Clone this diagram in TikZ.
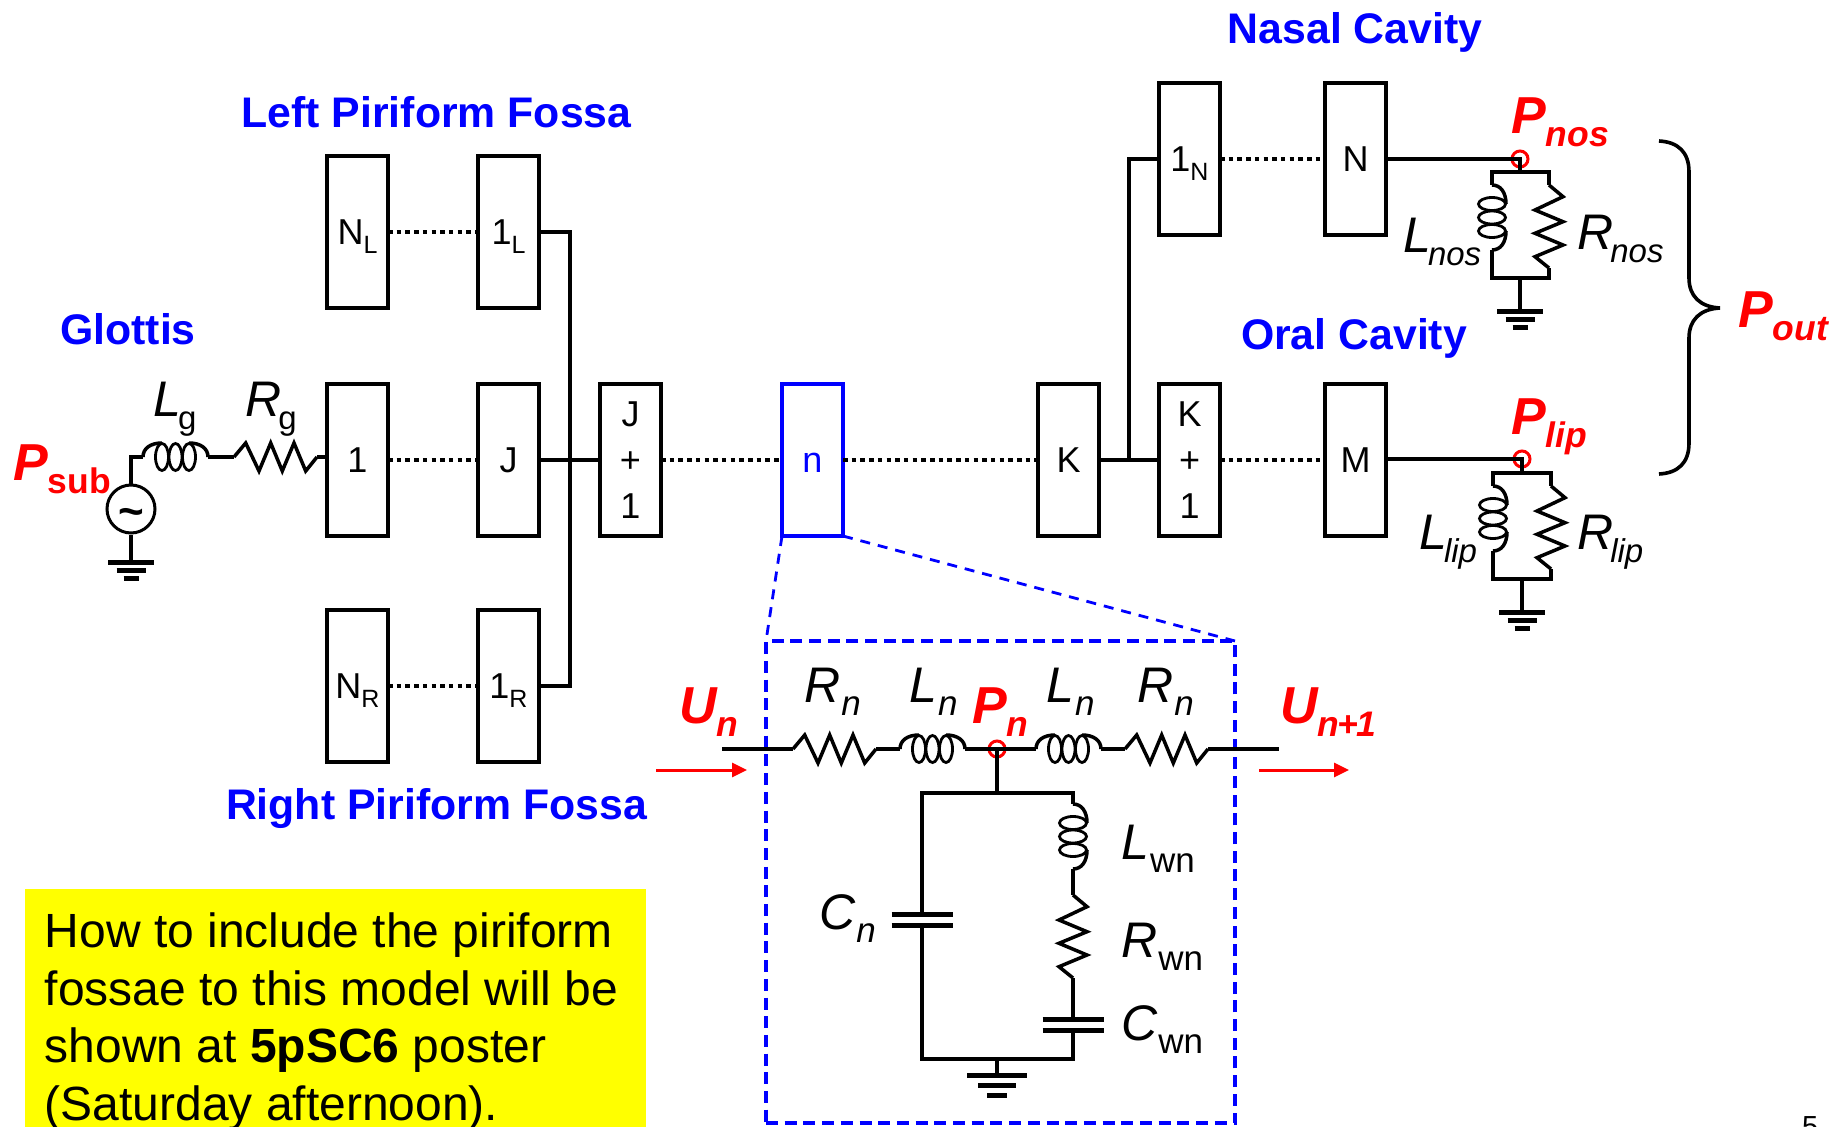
\documentclass[tikz,border=0pt]{standalone}
\usepackage{fontspec}
\setmainfont{Liberation Sans}
\usetikzlibrary{arrows.meta, positioning}

\definecolor{pureblue}{RGB}{0,0,255}
\definecolor{purered}{RGB}{255,0,0}
\definecolor{pureyellow}{RGB}{255,255,0}

\newcommand{\elab}[2]{{\fontsize{50}{50}\selectfont\itshape #1}\kern-3pt\raisebox{-13pt}{\fontsize{35}{35}\selectfont #2}}
\newcommand{\isub}[1]{{\fontsize{33}{33}\selectfont\itshape #1}}
\newcommand{\plab}[2]{{\fontsize{52}{52}\selectfont\bfseries\itshape #1}\raisebox{-13pt}{\fontsize{35.5}{35.5}\selectfont\bfseries\itshape #2}}
\newcommand{\bsub}[2]{#1\smash{\raisebox{-9pt}{\fontsize{25}{25}\selectfont #2}}}

\tikzset{
  resistor/.pic={
    \coordinate (-in) at (0,0);
    \coordinate (-out) at (83,0);
    \draw[wire] (0,0) -- (11.7,-14) -- (25,14) -- (36.7,-14) -- (48.3,14) -- (60,-14) -- (71.7,14) -- (83,0);
  },
  inductor/.pic={
    \coordinate (-in) at (0,0);
    \coordinate (-out) at (65,0);
    \draw[wire] (0,0) .. controls (0,-9) and (8,-14) .. (19,-14);
    \draw[wire] (46,-14) .. controls (57,-14) and (65,-9) .. (65,0);
    \foreach \lx in {19,32.5,46}
      \draw[wire, line width=2.8pt] (\lx,0) ellipse [x radius=6.5pt, y radius=13.5pt];
  },
  gnd/.pic={
    \coordinate (-top) at (0,0);
    \draw[line width=5pt] (-23,0) -- (23,0);
    \draw[line width=5pt] (-14.5,8) -- (14.5,8);
    \draw[line width=5pt] (-7.5,16) -- (7.5,16);
  }
}

\begin{document}
\begin{tikzpicture}[
  x=1pt, y=-1pt,
  box/.style={rectangle, draw, line width=3.8pt, minimum height=152pt, minimum width=61pt, inner sep=0pt, outer sep=0pt, align=center, font=\fontsize{36}{46}\selectfont},
  wire/.style={line width=3.5pt, line join=miter},
  bus/.style={line width=4pt},
  dots/.style={line width=3.6pt, dash pattern=on 4.5pt off 4.2pt},
  title/.style={text=pureblue, inner sep=0pt, font=\fontsize{42.8}{42.8}\selectfont\bfseries},
  txt/.style={anchor=base west, inner sep=0pt},
  redtxt/.style={txt, text=purered},
  probe/.style={circle, draw=purered, line width=3pt, minimum size=16pt, inner sep=0pt},
  plate/.style={line width=5pt},
  flow/.style={draw=purered, line width=3pt, -{Triangle[length=15pt, width=14pt]}},
  zoomline/.style={draw=pureblue, line width=2.8pt, dash pattern=on 10pt off 8pt},
  zoombox/.style={draw=pureblue, line width=4pt, dash pattern=on 12pt off 6.7pt}
]
  \useasboundingbox (0,0) rectangle (1840,1127);
  % main row
  \node[box] (one) at (357.5,460) {1};
  \node[box, right=90pt of one] (jj) {J};
  \node[box, right=61pt of jj] (jplus) {J\\+\\1};
  \node[box, draw=pureblue, text=pureblue, right=121pt of jplus] (nn) {\vphantom{1}n};
  \node[box, right=195pt of nn] (kk) {K};
  \node[box, right=60pt of kk] (kplus) {K\\+\\1};
  \node[box, right=105pt of kplus] (mm) {M};
  % piriform fossae
  \node[box, above=76pt of one] (nl) {\bsub{N}{L}};
  \node[box, above=76pt of jj] (onel) {\bsub{1}{L}};
  \node[box, below=74pt of one] (nr) {\bsub{N}{R}};
  \node[box, below=74pt of jj] (oner) {\bsub{1}{R}};
  % nasal branch
  \node[box, above=149pt of kplus] (onen) {\bsub{1}{N}};
  \node[box, above=149pt of mm] (en) {N};

  \draw[dots] (one) -- (jj);
  \draw[dots] (nl) -- (onel);
  \draw[dots] (nr) -- (oner);
  \draw[dots] (jplus) -- (nn);
  \draw[dots] (nn) -- (kk);
  \draw[dots] (kplus) -- (mm);
  \draw[dots] (onen) -- (onen -| en.west);
  \draw[wire] (jj) -- (jplus);
  \draw[wire] (kk) -- (kplus);
  \coordinate (busj) at (570,460);
  \coordinate (busk) at (1129,460);
  \draw[bus] (onel.east) -| (busj) |- (oner.east);
  \draw[bus] (busk) |- (onen.west);

  % glottis
  \node[circle, draw, line width=3pt, minimum size=48pt, inner sep=0pt, font=\fontsize{44}{44}\selectfont\bfseries] (src) at (131,509) {\smash{\raisebox{-17pt}{\textasciitilde}}};
  \pic (lg) at (143,457) {inductor};
  \pic (rg) at (234,457) {resistor};
  \pic (gnda) at (131,562) {gnd};
  \draw[wire] (src.north) |- (lg-in);
  \draw[wire] (lg-out) -- (rg-in);
  \draw[wire] (rg-out) -- (rg-out -| one.west);
  \draw[wire] (src.south) -- (gnda-top);
  \node[txt] (lgtxt) at (153,416) {\elab{L}{\fontsize{33}{33}\selectfont g}};
  \node[txt] (rgtxt) at (245,416) {\elab{R}{\fontsize{33}{33}\selectfont g}};
  \node[redtxt] (psub) at (13,480) {\plab{P}{\textup{sub}}};

  % nostrils
  \node[probe] (pnos) at (1520,159) {};
  \coordinate (railna) at (1492,172);
  \coordinate (railnb) at (1549,172);
  \coordinate (railnc) at (1492,278);
  \coordinate (railnd) at (1549,278);
  \pic[rotate=-90] (lnos) at (1492,185) {inductor};
  \pic[rotate=-90] (rnos) at (1549,185) {resistor};
  \pic (gndb) at (1520,311) {gnd};
  \draw[wire] (en.east |- pnos) -- (pnos.center) -- (pnos |- railna);
  \draw[wire] (lnos-in) -- (railna) -- (railnb) -- (rnos-in);
  \draw[wire] (lnos-out) -- (railnc) -- (railnd) -- (rnos-out);
  \draw[wire] (pnos |- railnc) -- (gndb-top);
  \node[txt] (lnostxt) at (1403,252) {\elab{L}{\isub{nos}}};
  \node[txt] (rnostxt) at (1577,249) {\elab{R}{\isub{nos}}};
  \node[redtxt] (pnostxt) at (1511,133) {\plab{P}{nos}};

  % lips
  \node[probe] (plip) at (1522,459) {};
  \coordinate (railla) at (1493,473);
  \coordinate (raillb) at (1551,473);
  \coordinate (raillc) at (1493,579);
  \coordinate (raild) at (1551,579);
  \pic[rotate=-90] (llip) at (1493,486) {inductor};
  \pic[rotate=-90] (rlip) at (1551,486) {resistor};
  \pic (gndc) at (1522,612) {gnd};
  \draw[wire] (mm.east |- plip) -- (plip.center) -- (plip |- railla);
  \draw[wire] (llip-in) -- (railla) -- (raillb) -- (rlip-in);
  \draw[wire] (llip-out) -- (raillc) -- (raild) -- (rlip-out);
  \draw[wire] (plip |- raillc) -- (gndc-top);
  \node[txt] (lliptxt) at (1419,549) {\elab{L}{\isub{lip}}};
  \node[txt] (rliptxt) at (1577,549) {\elab{R}{\isub{lip}}};
  \node[redtxt] (pliptxt) at (1511,434) {\plab{P}{lip}};

  % brace
  \draw[line width=3.6pt] (1659,141) .. controls (1678,142) and (1689,152) .. (1689,172) -- (1689,278)
    .. controls (1689,296) and (1700,307) .. (1720,308) .. controls (1700,309) and (1689,320) .. (1689,338)
    -- (1689,443) .. controls (1689,463) and (1678,473) .. (1659,474);
  \node[redtxt] (pout) at (1738,327) {\plab{P}{out}};

  % zoomed section
  \node[rectangle, zoombox, minimum width=469pt, minimum height=482pt, inner sep=0pt, outer sep=0pt] (section) at (1000.5,882) {};
  \draw[zoomline] (nn.south west) -- (section.north west);
  \draw[zoomline] (nn.south east) -- (section.north east);

  \coordinate (uin) at (722,749);
  \coordinate (uout) at (1279,749);
  \pic (rna) at (793,749) {resistor};
  \pic (lna) at (900,749) {inductor};
  \node[probe] (pn) at (997,749) {};
  \pic (lnb) at (1036,749) {inductor};
  \pic (rnb) at (1125,749) {resistor};
  \draw[wire] (uin) -- (rna-in);
  \draw[wire] (rna-out) -- (lna-in);
  \draw[wire] (lna-out) -- (lnb-in);
  \draw[wire] (lnb-out) -- (rnb-in);
  \draw[wire] (rnb-out) -- (uout);

  \coordinate (railta) at (922,793);
  \coordinate (railtb) at (1073,793);
  \coordinate (railba) at (922,1059);
  \coordinate (railbb) at (1073,1059);
  \coordinate (cna) at (922,914);
  \coordinate (cnb) at (922,925);
  \coordinate (cwa) at (1073,1019);
  \coordinate (cwb) at (1073,1030);
  \pic[rotate=-90] (lw) at (1073,804) {inductor};
  \pic[rotate=-90] (rw) at (1073,895) {resistor};
  \pic[scale=1.3] (gndd) at (997,1075) {gnd};
  \draw[wire] (pn.center) -- (pn |- railta);
  \draw[wire] (cna) -- (railta) -- (railtb) -- (lw-in);
  \draw[wire] (lw-out) -- (rw-in);
  \draw[wire] (rw-out) -- (cwa);
  \draw[wire] (cnb) -- (railba) -- (railbb) -- (cwb);
  \draw[wire] (pn |- railba) -- (gndd-top);
  \draw[plate] ([xshift=-30.5pt]cna) -- ([xshift=30.5pt]cna);
  \draw[plate] ([xshift=-30.5pt]cnb) -- ([xshift=30.5pt]cnb);
  \draw[plate] ([xshift=-30.5pt]cwa) -- ([xshift=30.5pt]cwa);
  \draw[plate] ([xshift=-30.5pt]cwb) -- ([xshift=30.5pt]cwb);

  \node[txt] (rnatxt) at (804,702) {\elab{R}{\kern4pt\textit{n}}};
  \node[txt] (lnatxt) at (909,702) {\elab{L}{\kern4pt\textit{n}}};
  \node[txt] (lnbtxt) at (1046,702) {\elab{L}{\kern4pt\textit{n}}};
  \node[txt] (rnbtxt) at (1137,702) {\elab{R}{\kern4pt\textit{n}}};
  \node[txt] (cntxt) at (819,929) {\elab{C}{\kern4pt\textit{n}}};
  \node[txt] (lwtxt) at (1121,859) {\elab{L}{\kern4pt wn}};
  \node[txt] (rwtxt) at (1121,957) {\elab{R}{\kern4pt wn}};
  \node[txt] (cwtxt) at (1121,1040) {\elab{C}{\kern4pt wn}};
  \node[redtxt] (pntxt) at (972,723) {\plab{P}{n}};
  \node[redtxt] (untxt) at (679,723) {\plab{U}{n}};
  \node[redtxt] (unptxt) at (1280,723) {\plab{U}{n\kern-2pt+\kern-2pt 1}};
  \coordinate (fla) at (656,770);
  \coordinate (flb) at (747,770);
  \coordinate (flc) at (1259,770);
  \coordinate (fld) at (1349,770);
  \draw[flow] (fla) -- (flb);
  \draw[flow] (flc) -- (fld);

  % titles
  \node[title] (lpf) at (436.5,112) {Left Piriform Fossa};
  \node[title] (rpf) at (436.5,809) {Right Piriform Fossa};
  \node[title] (glot) at (128,329) {Glottis};
  \node[title] (nasal) at (1355,32) {Nasal Cavity};
  \node[title] (oral) at (1354,338) {Oral Cavity};

  \node[anchor=north west, fill=pureyellow, inner sep=0pt, minimum width=621pt, minimum height=238pt] (note) at (25,889) {};
  \node[anchor=north west, inner sep=0pt, align=left, font=\fontsize{48}{57.5}\selectfont] (notetxt) at (44.6,913)
    {How to include the piriform\\fossae to this model will be\\shown at \textbf{5pSC6} poster\\(Saturday afternoon).};
  \node[txt, font=\fontsize{29}{29}\selectfont] (page) at (1802,1136) {5};
\end{tikzpicture}
\end{document}
